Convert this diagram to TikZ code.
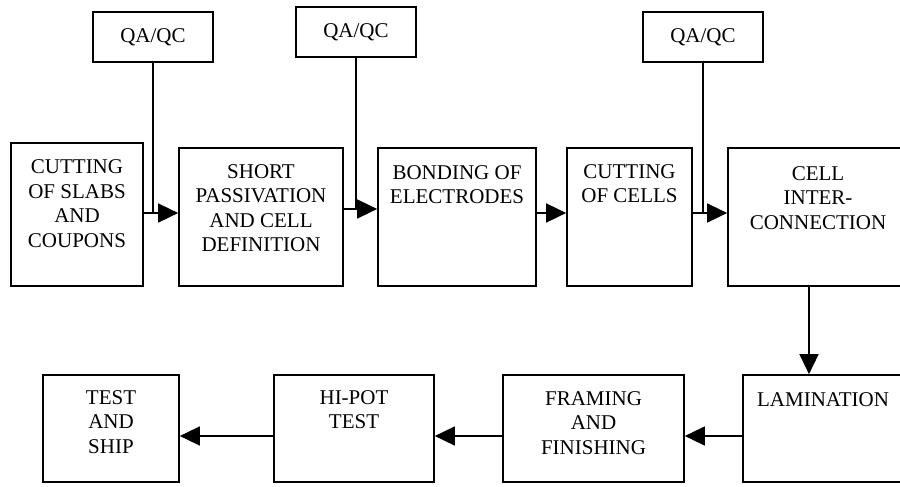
\documentclass[tikz,border=0pt]{standalone}
\usepackage{fontspec}
\setmainfont{Liberation Serif}
\usetikzlibrary{arrows.meta}
\begin{document}
\begin{tikzpicture}[x=1pt,y=-1pt,
  box/.style={draw,line width=1.7pt,inner sep=0pt,font=\fontsize{21pt}{24.5pt}\selectfont},
  txt/.style={anchor=north,inner sep=0pt,align=center,font=\fontsize{21pt}{24.5pt}\selectfont},
  link/.style={line width=1.6pt},
  arr/.style={line width=1.6pt,-{Triangle[length=20pt,width=19pt]}}]
\useasboundingbox (0,0) rectangle (900,487);
% QA/QC boxes
\node[box,minimum width=120pt,minimum height=50pt] (q1) at (153,37) {QA/QC};
\node[box,minimum width=120pt,minimum height=50pt] (q2) at (356,32) {QA/QC};
\node[box,minimum width=120pt,minimum height=50pt] (q3) at (703,37) {QA/QC};
% top row
\node[box,minimum width=132pt,minimum height=143pt] (b1) at (77,214.5) {};
\node[box,minimum width=164pt,minimum height=138pt] (b2) at (261,217) {};
\node[box,minimum width=158pt,minimum height=138pt] (b3) at (457,217) {};
\node[box,minimum width=125pt,minimum height=138pt] (b4) at (629.5,217) {};
\node[box,minimum width=180pt,minimum height=138pt] (b5) at (818,217) {};
% bottom row
\node[box,minimum width=162pt,minimum height=107pt] (lam) at (824,428.5) {};
\node[box,minimum width=181pt,minimum height=107pt] (fr) at (593.5,428.5) {};
\node[box,minimum width=160pt,minimum height=107pt] (hp) at (354,428.5) {};
\node[box,minimum width=136pt,minimum height=107pt] (ts) at (111,428.5) {};
% texts
\node[txt] (t1) at (77,159.5) {CUTTING\\OF SLABS\\AND\\COUPONS};
\node[txt] (t2) at (261,164) {SHORT\\PASSIVATION\\AND CELL\\DEFINITION};
\node[txt] (t3) at (457,165) {BONDING OF\\ELECTRODES};
\node[txt] (t4) at (629.5,164) {CUTTING\\OF CELLS};
\node[txt] (t5) at (818,166) {CELL\\INTER-\\CONNECTION};
\node[txt] (t6) at (823,392) {LAMINATION};
\node[txt] (t7) at (593.5,391) {FRAMING\\AND\\FINISHING};
\node[txt] (t8) at (354,390) {HI-POT\\TEST};
\node[txt] (t9) at (111,390) {TEST\\AND\\SHIP};
% junctions
\coordinate (j1) at (q1.south |- 0,213);
\coordinate (j2) at (q2.south |- 0,209);
\coordinate (j3) at (b3.east |- 0,213);
\coordinate (j4) at (q3.south |- 0,213);
\coordinate (jd) at (809,0);
\coordinate (jb) at (0,436);
% connectors
\draw[link] (q1.south) -- (j1);
\draw[link] (q2.south) -- (j2);
\draw[link] (q3.south) -- (j4);
\draw[arr] (b1.east |- j1) -- (b2.west |- j1);
\draw[arr] (b2.east |- j2) -- (b3.west |- j2);
\draw[arr] (j3) -- (b4.west |- j3);
\draw[arr] (b4.east |- j4) -- (b5.west |- j4);
\draw[arr] (b5.south -| jd) -- (lam.north -| jd);
\draw[arr] (lam.west |- jb) -- (fr.east |- jb);
\draw[arr] (fr.west |- jb) -- (hp.east |- jb);
\draw[arr] (hp.west |- jb) -- (ts.east |- jb);
\end{tikzpicture}
\end{document}
